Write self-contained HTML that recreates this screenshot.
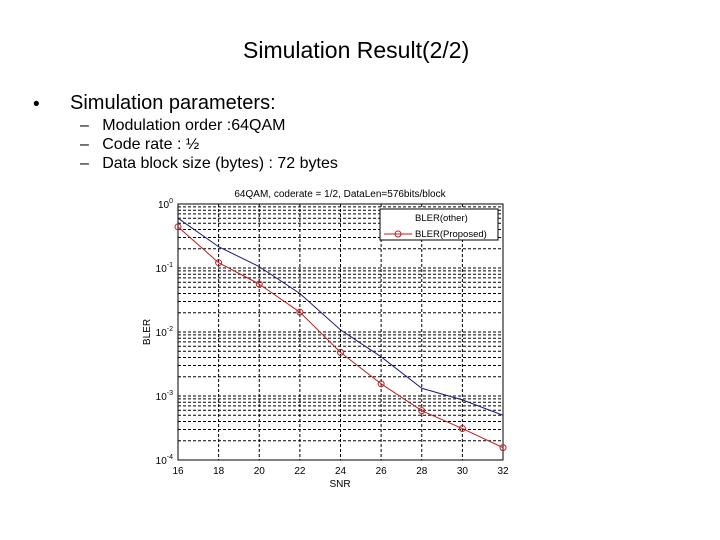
<!DOCTYPE html>
<html><head><meta charset="utf-8"><style>
body{margin:0;width:720px;height:540px;background:#fff;overflow:hidden;font-family:"Liberation Sans",sans-serif;position:relative}
.t{position:absolute;white-space:nowrap;color:#000}
</style></head><body>
<div class="t" style="left:243px;top:37px;font-size:23px">Simulation Result(2/2)</div>
<div class="t" style="left:33px;top:94px;font-size:19px">•</div>
<div class="t" style="left:70px;top:92px;font-size:20px">Simulation parameters:</div>
<div class="t" style="left:80px;top:117px;font-size:16px">–&nbsp;&nbsp;&nbsp;Modulation order :64QAM</div>
<div class="t" style="left:80px;top:136px;font-size:16px">–&nbsp;&nbsp;&nbsp;Code rate : ½</div>
<div class="t" style="left:80px;top:155px;font-size:16px">–&nbsp;&nbsp;&nbsp;Data block size (bytes) : 72 bytes</div>
<svg id="chart" width="720" height="540" style="position:absolute;left:0;top:0" font-family="Liberation Sans, sans-serif"></svg>
<script>
const snr=[16,18,20,22,24,26,28,30,32];
const blerOther=[0.6,0.215,0.105,0.04,0.0108,0.0041,0.00132,0.00087,0.0005];
const blerProposed=[0.44,0.121,0.056,0.0204,0.0048,0.00155,0.00059,0.00031,0.000156];
const xTicks=[16,18,20,22,24,26,28,30,32];
const yDecades=[0,-1,-2,-3,-4];
const L=178,R=503,T=204,B=460;
const xs=v=>L+(v-16)/(32-16)*(R-L);
const ys=v=>T+(0-Math.log10(v))/4*(B-T);
const svg=document.getElementById('chart');
const NS='http://www.w3.org/2000/svg';
function mk(tag,at,parent){const e=document.createElementNS(NS,tag);for(const k in at)e.setAttribute(k,at[k]);(parent||svg).appendChild(e);return e;}
const grid=mk('g',{});


for(let d=0;d<4;d++){for(let m=1;m<=9;m++){const v=m*Math.pow(10,-(d+1));const y=ys(v);
 mk('line',{x1:L,x2:R,y1:y,y2:y,stroke:'#000','stroke-width':1,'stroke-dasharray':'3,2'},grid);}}
xTicks.forEach(t=>{const x=xs(t);mk('line',{x1:x,x2:x,y1:T,y2:B,stroke:'#000','stroke-width':1,'stroke-dasharray':'3,2'},grid);
 const tl=mk('text',{x:x,y:B+14,'font-size':10,'text-anchor':'middle'});tl.textContent=t;
 
 });
yDecades.forEach(d=>{const y=ys(Math.pow(10,d));const tl=mk('text',{x:L-5,y:y+4,'font-size':10,'text-anchor':'end'});
 tl.innerHTML='10<tspan dy="-5" font-size="7">'+d+'</tspan>';
 
 });
const fr=mk('rect',{x:L,y:T,width:R-L,height:B-T,fill:'none',stroke:'#000','stroke-width':1});


const p1=mk('polyline',{points:snr.map((s,i)=>xs(s)+','+ys(blerOther[i])).join(' '),fill:'none',stroke:'#1a1a80','stroke-width':1});


const p2=mk('polyline',{points:snr.map((s,i)=>xs(s)+','+ys(blerProposed[i])).join(' '),fill:'none',stroke:'#c02020','stroke-width':1});


snr.forEach((s,i)=>{const c=mk('circle',{cx:xs(s),cy:ys(blerProposed[i]),r:3,fill:'none',stroke:'#c02020','stroke-width':1});
 
 });
const tt=mk('text',{x:340,y:197,'font-size':10,'text-anchor':'middle'});tt.textContent='64QAM, coderate = 1/2, DataLen=576bits/block';


const xl=mk('text',{x:340,y:487,'font-size':10,'text-anchor':'middle'});xl.textContent='SNR';


const yl=mk('text',{x:150,y:332,'font-size':10,'text-anchor':'middle',transform:'rotate(-90 150 332)'});yl.textContent='BLER';


const lg=mk('g',{});


mk('rect',{x:380,y:209,width:118,height:31,fill:'#fff',stroke:'#000','stroke-width':1},lg);
const l1=mk('text',{x:415,y:221,'font-size':9.5},lg);l1.textContent='BLER(other)';
mk('line',{x1:384,x2:412,y1:234,y2:234,stroke:'#c02020','stroke-width':1},lg);
mk('circle',{cx:398,cy:234,r:3,fill:'none',stroke:'#c02020'},lg);
const l2=mk('text',{x:415,y:237,'font-size':9.5},lg);l2.textContent='BLER(Proposed)';
</script>
</body></html>
